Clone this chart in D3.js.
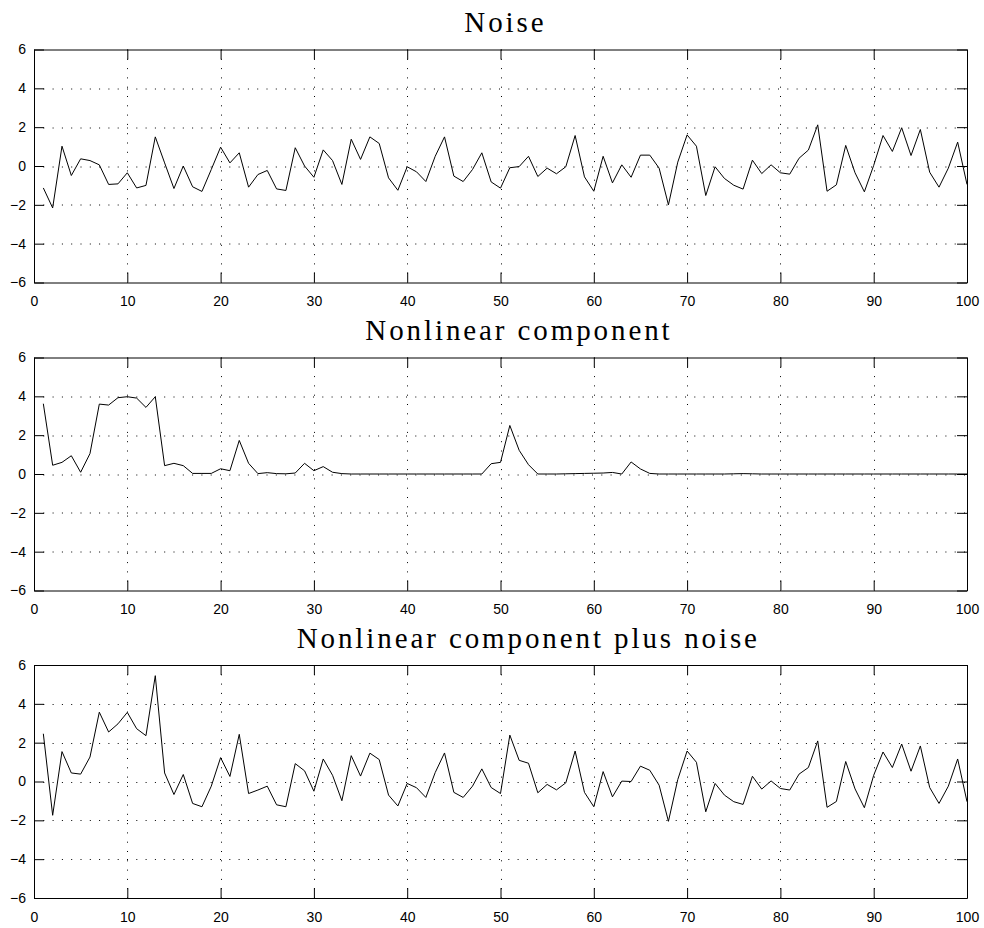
<!DOCTYPE html>
<html>
<head>
<meta charset="utf-8">
<script src="https://cdn.jsdelivr.net/npm/d3@7"></script>
<style>
  body { margin: 0; background: #fff; }
  svg { display: block; }
  .tick text { font-family: "Liberation Sans", Arial, sans-serif; font-size: 14px; fill: #000; }
  .title { font-family: "Liberation Serif", "Times New Roman", serif; font-size: 29px; letter-spacing: 2.9px; }
  .grid line { stroke: #000; stroke-width: 1; stroke-dasharray: 1,8.3; }
</style>
</head>
<body>
<svg width="984" height="928"></svg>
<script>
const titles = ["Noise", "Nonlinear component", "Nonlinear component plus noise"];
const xTicks = [0, 10, 20, 30, 40, 50, 60, 70, 80, 90, 100];
const yTicks = [-6, -4, -2, 0, 2, 4, 6];

const noise = [
  -1.13, -2.16, 1.02, -0.49, 0.37, 0.28, 0.06, -0.95, -0.92, -0.35,
  -1.13, -1.0, 1.5, 0.16, -1.16, 0.0, -1.07, -1.31, -0.18, 0.97,
  0.16, 0.68, -1.09, -0.44, -0.23, -1.18, -1.26, 0.94, 0.0, -0.58,
  0.83, 0.28, -0.95, 1.38, 0.34, 1.5, 1.16, -0.61, -1.25, -0.04,
  -0.3, -0.8, 0.5, 1.5, -0.52, -0.8, -0.18, 0.68, -0.82, -1.14,
  -0.09, -0.03, 0.5, -0.54, -0.11, -0.4, -0.04, 1.57, -0.56, -1.3,
  0.5, -0.87, 0.06, -0.58, 0.56, 0.56, -0.11, -2.0, 0.2, 1.6,
  1.02, -1.52, -0.04, -0.64, -0.99, -1.19, 0.3, -0.39, 0.06, -0.35,
  -0.42, 0.4, 0.82, 2.12, -1.3, -0.97, 1.06, -0.35, -1.33, 0.03,
  1.57, 0.75, 1.97, 0.54, 1.88, -0.32, -1.09, -0.11, 1.23, -0.95
];

const nonlinear = [
  3.62, 0.45, 0.6, 0.94, 0.09, 1.05, 3.6, 3.55, 3.93, 3.98,
  3.91, 3.43, 3.98, 0.43, 0.55, 0.43, 0.03, 0.03, 0.03, 0.27,
  0.17, 1.73, 0.55, 0.02, 0.07, 0.02, 0.01, 0.05, 0.55, 0.17,
  0.38, 0.09, 0.02, 0.0, 0.0, 0.0, 0.0, 0.0, 0.0, 0.0,
  0.0, 0.0, 0.0, 0.0, 0.0, 0.0, 0.0, 0.0, 0.53, 0.6,
  2.5, 1.22, 0.48, 0.0, 0.0, 0.0, 0.01, 0.02, 0.03, 0.04,
  0.05, 0.08, 0.0, 0.62, 0.26, 0.03, 0.0, 0.0, 0.0, 0.0,
  0.0, 0.0, 0.0, 0.0, 0.01, 0.02, 0.01, 0.0, 0.0, 0.0,
  0.0, 0.0, 0.0, 0.0, 0.0, 0.0, 0.0, 0.0, 0.0, 0.0,
  0.0, 0.0, 0.0, 0.0, 0.0, 0.0, 0.0, 0.0, 0.0, 0.0
];

const combined = [
  2.46, -1.74, 1.54, 0.44, 0.38, 1.26, 3.57, 2.55, 2.97, 3.56,
  2.72, 2.36, 5.45, 0.44, -0.67, 0.36, -1.13, -1.3, -0.24, 1.23,
  0.26, 2.43, -0.62, -0.44, -0.24, -1.2, -1.3, 0.92, 0.55, -0.5,
  1.16, 0.32, -0.99, 1.33, 0.28, 1.46, 1.13, -0.7, -1.26, -0.1,
  -0.32, -0.82, 0.46, 1.47, -0.56, -0.82, -0.24, 0.65, -0.31, -0.62,
  2.39, 1.09, 0.94, -0.58, -0.15, -0.43, -0.07, 1.57, -0.56, -1.3,
  0.51, -0.79, 0.02, 0.0, 0.79, 0.58, -0.19, -2.05, 0.1, 1.57,
  0.99, -1.56, -0.1, -0.7, -1.04, -1.18, 0.27, -0.39, 0.03, -0.36,
  -0.44, 0.38, 0.72, 2.09, -1.33, -1.03, 1.03, -0.38, -1.35, 0.32,
  1.52, 0.72, 1.93, 0.53, 1.83, -0.31, -1.13, -0.24, 1.16, -1.04
];

const series = [noise, nonlinear, combined];

const svg = d3.select("svg");
const left = 34, plotW = 933, plotH = 233;
const tops = [49.5, 357.5, 665];
const tick = 10;

const x = d3.scaleLinear().domain([0, 100]).range([0, plotW]);
const y = d3.scaleLinear().domain([-6, 6]).range([plotH, 0]);

const line = d3.line()
    .x((d, i) => x(i + 1))
    .y(d => y(d));

series.forEach(function(values, k) {
    const g = svg.append("g").attr("transform", "translate(" + left + "," + tops[k] + ")");

    // dotted grid (interior only)
    const grid = g.append("g").attr("class", "grid");
    grid.selectAll(".gx")
        .data(xTicks.slice(1, -1))
        .enter().append("line")
        .attr("x1", d => Math.round(x(d)) + 0.5)
        .attr("x2", d => Math.round(x(d)) + 0.5)
        .attr("y1", 0)
        .attr("y2", plotH);
    grid.selectAll(".gy")
        .data(yTicks.slice(1, -1))
        .enter().append("line")
        .attr("x1", 0)
        .attr("x2", plotW)
        .attr("y1", d => Math.round(y(d)) + 0.5)
        .attr("y2", d => Math.round(y(d)) + 0.5);

    // data
    g.append("path")
        .datum(values)
        .attr("fill", "none")
        .attr("stroke", "#000")
        .attr("stroke-width", 1)
        .attr("d", line);

    // axes box, ticks pointing inward
    g.append("g")
        .attr("transform", "translate(0," + plotH + ")")
        .call(d3.axisBottom(x).tickValues(xTicks).tickSizeInner(-tick).tickSizeOuter(0).tickPadding(14));
    g.append("g")
        .call(d3.axisLeft(y).tickValues(yTicks).tickSizeInner(-tick).tickSizeOuter(0).tickPadding(8));
    g.append("g")
        .call(d3.axisTop(x).tickValues(xTicks).tickSizeInner(-tick).tickSizeOuter(0).tickFormat(""));
    g.append("g")
        .attr("transform", "translate(" + plotW + ",0)")
        .call(d3.axisRight(y).tickValues(yTicks).tickSizeInner(-tick).tickSizeOuter(0).tickFormat(""));

    g.selectAll(".domain").attr("stroke", "#000");
    g.selectAll(".tick line").attr("stroke", "#000");

    // title: spaced-out text starts a bit left of the centre, as in the original
    const t = g.append("text")
        .attr("class", "title")
        .attr("y", -17.5)
        .text(titles[k]);
    const w = t.node().getComputedTextLength();
    t.attr("x", plotW / 2 - 0.44 * w);
});
</script>
</body>
</html>
